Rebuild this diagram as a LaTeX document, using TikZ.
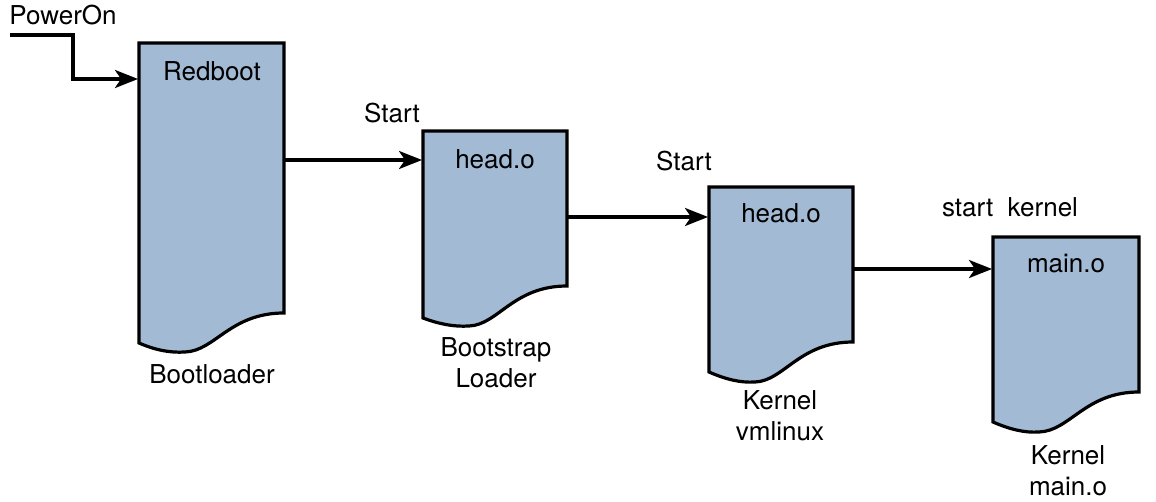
\documentclass[tikz,border=0pt]{standalone}
\usepackage{fontspec}
\setmainfont{TeX Gyre Heros}
\usetikzlibrary{arrows.meta}
\definecolor{docblue}{RGB}{162,186,212}

\begin{document}
\begin{tikzpicture}[x=1pt,y=-1pt,
    doc/.style={draw,fill=docblue,line width=3.2pt},
    flow/.style={line width=3.2pt,-{Stealth[length=23pt,width=18pt,inset=6pt]}},
    lbl/.style={anchor=base,inner sep=0pt,align=center,font=\fontsize{26}{31}\selectfont}]
     \useasboundingbox (0,0) rectangle (1156,502);
     % documents
     \filldraw[doc] (139,43) -- (284,43) -- (284,313) .. controls (230,313) and (215,351) .. (185,352)
        .. controls (170,353) and (155,350) .. (139,343) -- cycle;
     \filldraw[doc] (423,131) -- (567,131) -- (567,286) .. controls (513,286) and (498,325) .. (469,326)
        .. controls (454,327) and (439,324) .. (423,318) -- cycle;
     \filldraw[doc] (709,187) -- (853,187) -- (853,342) .. controls (799,342) and (784,381) .. (755,382)
        .. controls (740,383) and (725,379) .. (709,372) -- cycle;
     \filldraw[doc] (993,237) -- (1139,237) -- (1139,392) .. controls (1085,392) and (1070,431) .. (1039,432)
        .. controls (1024,433) and (1009,429) .. (993,422) -- cycle;
     % texts (base of last line)
     \node[lbl] (redboot) at (212,81) {Redboot};
     \node[lbl] (bootl) at (212,383) {Bootloader};
     \node[lbl] (head1) at (495,169) {head.o};
     \node[lbl] (bsl) at (496,387) {Bootstrap\\Loader};
     \node[lbl] (head2) at (781,223) {head.o};
     \node[lbl] (vml) at (780,440) {Kernel\\vmlinux};
     \node[lbl] (maino) at (1066,273) {main.o};
     \node[lbl] (kmain) at (1068,495) {Kernel\\main.o};
     \node[lbl] (pwr) at (63,25) {PowerOn};
     \node[lbl] (start1) at (392,123) {Start};
     \node[lbl] (start2) at (684,171) {Start};
     \node[lbl] (startk) at (1010,217) {start\ \ kernel};
     % connectors
     \coordinate (pwrL) at (10,35);
     \coordinate (bootL) at (138,79);
     \coordinate (bootR) at (285,160);
     \coordinate (bslL) at (422,160);
     \coordinate (bslR) at (568,217);
     \coordinate (vmlL) at (708,217);
     \coordinate (vmlR) at (854,269);
     \coordinate (mainL) at (992,269);
     \draw[flow] (pwrL) -- ++(63,0) |- (bootL);
     \draw[flow] (bootR) -- (bslL);
     \draw[flow] (bslR) -- (vmlL);
     \draw[flow] (vmlR) -- (mainL);
\end{tikzpicture}
\end{document}
